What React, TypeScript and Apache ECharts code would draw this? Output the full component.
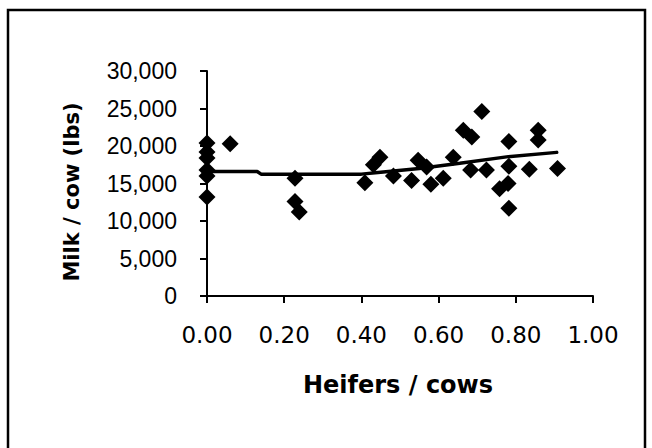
import React, { useEffect, useRef } from "react";
import * as echarts from "echarts";

const heiferRatio: number[] = [
  0, 0, 0, 0, 0, 0,
  0.06, 0.228, 0.228, 0.239,
  0.409, 0.431, 0.448, 0.483, 0.53, 0.547, 0.569, 0.58, 0.612, 0.638,
  0.664, 0.686, 0.683, 0.712, 0.724, 0.758, 0.78, 0.782, 0.782, 0.782,
  0.835, 0.858, 0.858, 0.908,
];
const milkPerCow: number[] = [
  20400, 19200, 18400, 16800, 16000, 13200,
  20300, 15700, 12600, 11200,
  15100, 17500, 18500, 16000, 15400, 18100, 17200, 14900, 15700, 18500,
  22100, 21200, 16800, 24600, 16800, 14300, 15000, 20600, 17300, 11700,
  16900, 22100, 20800, 17000,
];
const trendX: number[] = [0, 0.13, 0.14, 0.4, 0.45, 0.55, 0.655, 0.776, 0.906];
const trendY: number[] = [16600, 16600, 16250, 16250, 16500, 17000, 17700, 18550, 19150];

const xTitle = "Heifers / cows";
const yTitle = "Milk / cow (lbs)";

export default function App() {
  const ref = useRef<HTMLDivElement>(null);
  useEffect(() => {
    if (!ref.current) return;
    const chart = echarts.init(ref.current, null, { renderer: "svg" });
    chart.setOption({
      animation: false,
      backgroundColor: "#fff",
      grid: { left: 207, right: 59, top: 71, bottom: 152, containLabel: false },
      xAxis: {
        type: "value",
        min: 0,
        max: 1,
        interval: 0.2,
        axisLine: { show: true, lineStyle: { color: "#000", width: 2 } },
        axisTick: { show: true, length: 7, lineStyle: { color: "#000", width: 2 } },
        splitLine: { show: false },
        axisLabel: {
          fontFamily: "DejaVu Sans",
          fontSize: 23,
          color: "#000",
          margin: 27,
          formatter: (v: number) => v.toFixed(2),
        },
      },
      yAxis: {
        type: "value",
        min: 0,
        max: 30000,
        interval: 5000,
        axisLine: { show: true, lineStyle: { color: "#000", width: 2 } },
        axisTick: { show: true, length: 7, lineStyle: { color: "#000", width: 2 } },
        splitLine: { show: false },
        axisLabel: {
          fontFamily: "Liberation Sans",
          fontSize: 23,
          color: "#000",
          margin: 30,
          formatter: (v: number) => v.toLocaleString("en-US"),
        },
      },
      graphic: [
        {
          type: "polyline",
          shape: { points: [[8, 448], [8, 10], [645, 10], [645, 448]] },
          style: { stroke: "#000", lineWidth: 2.5, fill: null },
        },
        {
          type: "text",
          x: 398,
          y: 385,
          style: {
            text: xTitle,
            font: "bold 24px 'DejaVu Sans'",
            fill: "#000",
            align: "center",
            verticalAlign: "middle",
          },
        },
        {
          type: "text",
          x: 72,
          y: 192,
          rotation: Math.PI / 2,
          style: {
            text: yTitle,
            font: "bold 21px 'DejaVu Sans'",
            fill: "#000",
            align: "center",
            verticalAlign: "middle",
          },
        },
      ],
      series: [
        {
          type: "line",
          data: trendX.map((x, i) => [x, trendY[i]]),
          showSymbol: false,
          symbol: "none",
          lineStyle: { color: "#000", width: 3.5, cap: "round", opacity: 1 },
          z: 2,
        },
        {
          type: "scatter",
          data: heiferRatio.map((x, i) => [x, milkPerCow[i]]),
          symbol: "diamond",
          symbolSize: [17, 17],
          itemStyle: { color: "#000", opacity: 1 },
          z: 3,
        },
      ],
    });
    return () => chart.dispose();
  }, []);
  return (
    <div
      ref={ref}
      style={{ position: "absolute", left: 0, top: 0, width: 652, height: 448 }}
    />
  );
}
